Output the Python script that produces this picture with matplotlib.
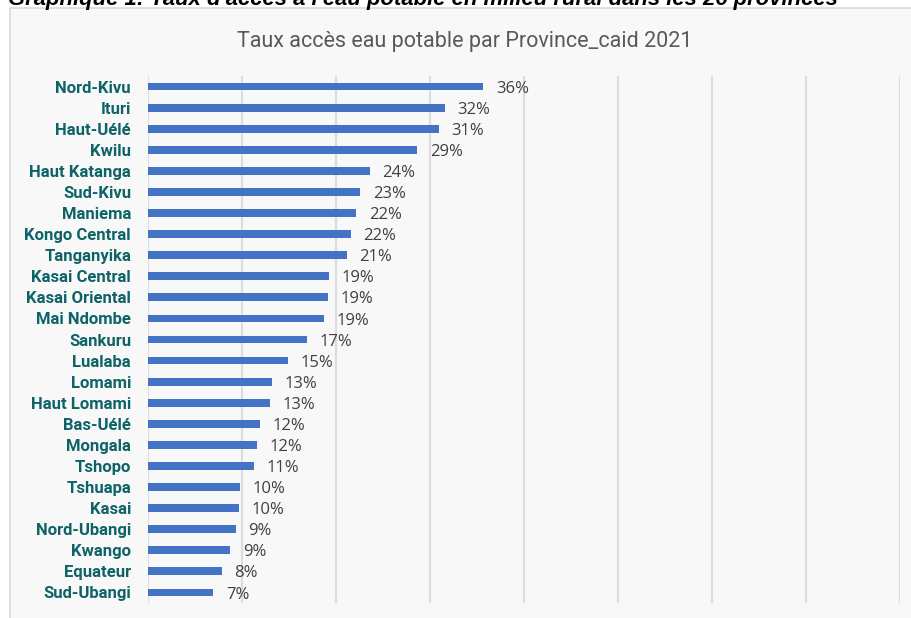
import matplotlib.pyplot as plt
from matplotlib.patches import Rectangle

# Taux d'accès à l'eau potable (%) par province, 2021
provinces = ['Nord-Kivu', 'Ituri', 'Haut-Uélé', 'Kwilu', 'Haut Katanga', 'Sud-Kivu',
             'Maniema', 'Kongo Central', 'Tanganyika', 'Kasai Central', 'Kasai Oriental',
             'Mai Ndombe', 'Sankuru', 'Lualaba', 'Lomami', 'Haut Lomami', 'Bas-Uélé',
             'Mongala', 'Tshopo', 'Tshuapa', 'Kasai', 'Nord-Ubangi', 'Kwango',
             'Equateur', 'Sud-Ubangi']
taux = [35.7, 31.6, 31.0, 28.7, 23.6, 22.6, 22.2, 21.6, 21.2, 19.3, 19.2, 18.8, 16.9,
        14.9, 13.2, 13.0, 11.9, 11.6, 11.3, 9.8, 9.7, 9.4, 8.8, 7.9, 7.0]
xticks = [0, 10, 20, 30, 40, 50, 60, 70, 80]

W, H = 912, 618
fig = plt.figure(figsize=(W / 100, H / 100), dpi=100)
fig.patch.set_facecolor('white')

# cadre gris clair du graphique
fig.patches.append(Rectangle((10 / W, -0.05), 1.2, 1 - 8 / H + 0.05,
                             transform=fig.transFigure, facecolor='#f8f8f8',
                             edgecolor='#d9d9d9', lw=1.2, zorder=-5))

# titre du document (coupé en haut)
fig.text(8 / W, 1 - 5 / H, "Graphique 1: Taux d'accès à l'eau potable en milieu rural dans les 26 provinces",
         family='Liberation Sans', weight='bold', style='italic', fontsize=15.8,
         color='black', ha='left', va='baseline')

fig.text(465 / W, 1 - 42 / H, 'Taux accès eau potable par Province_caid 2021',
         family='Roboto', fontsize=15.5, color='#595959', ha='center', va='center')

ax = fig.add_axes([147.7 / W, 1 - 603 / H, (899.7 - 147.7) / W, (603 - 76) / H])
ax.set_facecolor('none')

y = list(range(len(provinces)))
ax.barh(y, taux, height=0.37, color='#4472C4', zorder=3)
for yi, v in zip(y, taux):
    ax.annotate(f'{v:.0f}%', (v, yi), xytext=(9, -1.5), textcoords='offset points',
                ha='left', va='center', fontsize=12, family='Open Sans', color='#404040')

ax.set_ylim(len(provinces) - 0.5, -0.5)
ax.set_xlim(0, 80)
ax.set_xticks(xticks)
ax.set_xticklabels([])
ax.set_yticks(y)
ax.set_yticklabels(provinces, family='Roboto', weight='bold', fontsize=12, color='#0E6367')
ax.tick_params(length=0, pad=12)
ax.grid(axis='x', color='#dcdcdc', lw=1.5, zorder=0)
for s in ax.spines.values():
    s.set_visible(False)

plt.savefig('out.png', dpi=100)
